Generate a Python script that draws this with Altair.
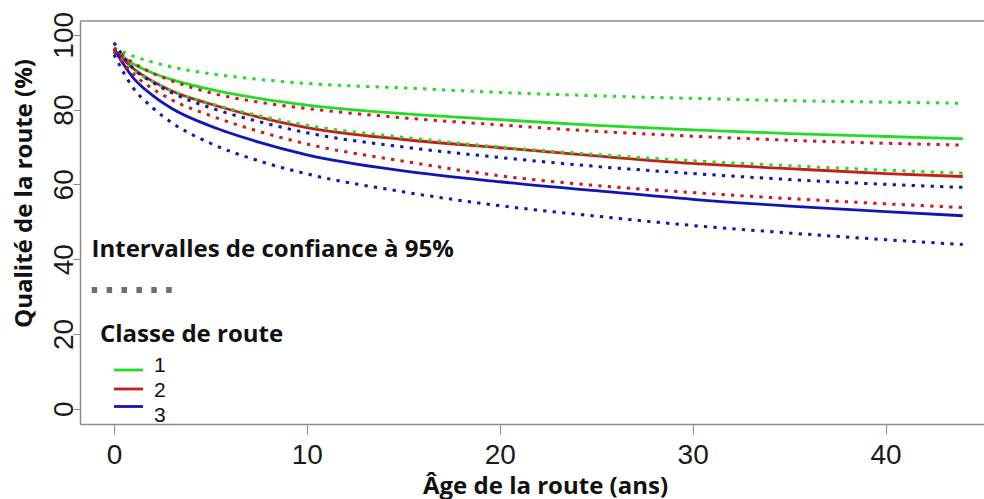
import altair as alt
import pandas as pd

# Age of the road (years)
age = [0, 1, 2, 3, 5, 7.5, 10, 15, 20, 25, 30, 35, 40, 44]

# Class 1 (green)
c1_est = [96.0, 92.2, 89.8, 88.0, 85.4, 83.0, 81.2, 78.9, 77.3, 75.8, 74.6, 73.6, 72.8, 72.2]
c1_up = [96.5, 94.3, 92.7, 91.4, 89.6, 88.1, 87.0, 85.8, 84.6, 83.7, 83.0, 82.4, 82.0, 81.7]
c1_lo = [95.5, 90.5, 87.5, 85.0, 81.6, 78.4, 75.8, 72.6, 70.0, 68.0, 66.3, 65.0, 63.8, 63.0]
# Class 2 (red)
c2_est = [96.0, 91.0, 87.6, 85.0, 81.5, 78.0, 75.2, 72.0, 69.8, 67.6, 65.6, 64.2, 62.9, 62.1]
c2_up = [96.5, 92.5, 89.8, 87.7, 84.5, 82.0, 80.3, 77.8, 75.9, 74.2, 72.9, 71.8, 71.0, 70.5]
c2_lo = [95.5, 89.5, 85.6, 82.6, 78.4, 74.2, 70.8, 66.2, 62.3, 59.7, 57.8, 56.2, 54.8, 53.8]
# Class 3 (blue)
c3_est = [96.2, 88.5, 83.8, 80.3, 75.6, 71.3, 67.9, 63.6, 60.7, 58.3, 56.0, 54.2, 52.7, 51.6]
c3_up = [97.9, 91.0, 87.3, 84.5, 80.5, 76.8, 73.8, 70.0, 67.2, 64.8, 62.9, 61.3, 60.0, 59.2]
c3_lo = [94.7, 85.8, 80.5, 76.5, 71.0, 66.3, 62.8, 58.0, 54.3, 51.5, 49.0, 47.0, 45.2, 43.9]

classes = ["1", "2", "3"]
colors = ["#22dd22", "#cc1a1a", "#1414b4"]
x_ticks = [0, 10, 20, 30, 40]
y_ticks = [0, 20, 40, 60, 80, 100]

series = [
    ("1", "est", c1_est), ("1", "up", c1_up), ("1", "lo", c1_lo),
    ("2", "est", c2_est), ("2", "up", c2_up), ("2", "lo", c2_lo),
    ("3", "est", c3_est), ("3", "up", c3_up), ("3", "lo", c3_lo),
]
rows = []
for cls, kind, vals in series:
    for a, v in zip(age, vals):
        rows.append({"age": a, "value": v, "classe": cls, "kind": kind, "sid": cls + "-" + kind})
df = pd.DataFrame(rows)

W, H = 904, 403
BOLD = "Open Sans"
BSIZE = 24
TICKFONT = "Liberation Sans"

xenc = alt.X(
    "age:Q",
    scale=alt.Scale(domain=[-1.76, 45.1], nice=False, zero=False),
    axis=alt.Axis(
        values=x_ticks, grid=False, title="Âge de la route (ans)",
        domainColor="#8c8c8c", domainWidth=1.5, tickColor="#8c8c8c", tickSize=10,
        labelFont=TICKFONT, labelFontSize=28, labelColor="#1a1a1a", labelPadding=7,
        titleFont=BOLD, titleFontSize=BSIZE, titleFontWeight="bold", titleColor="#111111",
        titleX=465, titleY=69, titleBaseline="alphabetic", titleAlign="center",
    ),
)
yenc = alt.Y(
    "value:Q",
    scale=alt.Scale(domain=[-4.1, 103.7], nice=False, zero=False),
    axis=alt.Axis(
        values=y_ticks, grid=False, title="Qualité de la route (%)",
        domainColor="#8c8c8c", domainWidth=1.5, tickColor="#8c8c8c", tickSize=7,
        labelFont=TICKFONT, labelFontSize=28, labelColor="#1a1a1a", labelPadding=1,
        labelAngle=270, labelAlign="center", labelBaseline="alphabetic",
        titleFont=BOLD, titleFontSize=BSIZE, titleFontWeight="bold", titleColor="#111111",
        titleAngle=270, titleX=-49, titleY=172, titleBaseline="alphabetic", titleAlign="center",
    ),
)
color = alt.Color("classe:N", scale=alt.Scale(domain=classes, range=colors), legend=None)

base = alt.Chart(df)
solid = base.transform_filter(alt.datum.kind == "est").mark_line(
    strokeWidth=2.8, interpolate="monotone"
).encode(x=xenc, y=yenc, color=color, detail="sid:N")
dotted = base.transform_filter(alt.datum.kind != "est").mark_line(
    strokeWidth=3, strokeDash=[3.3, 6.2], interpolate="monotone"
).encode(x=xenc, y=yenc, color=color, detail="sid:N")

one = pd.DataFrame({"k": [0]})

top_border = alt.Chart(one).mark_rule(color="#8c8c8c", strokeWidth=1.5).encode(
    x=alt.value(0), x2=alt.value(W), y=alt.value(0)
)

def label(text, x, y, size, weight="bold", font=BOLD):
    return alt.Chart(pd.DataFrame({"t": [text]})).mark_text(
        font=font, fontSize=size, fontWeight=weight, align="left",
        baseline="alphabetic", color="#111111"
    ).encode(text="t:N", x=alt.value(x), y=alt.value(y))

ci_title = label("Intervalles de confiance à 95%", 11.5, 236, BSIZE)
ci_sample = alt.Chart(one).mark_rule(
    color="#6e6e6e", strokeWidth=6, strokeDash=[5.5, 9.4]
).encode(x=alt.value(11.7), x2=alt.value(91.7), y=alt.value(269))
cls_title = label("Classe de route", 20, 321, BSIZE)

leg_layers = []
leg_y = [349, 368, 385.5]
lab_y = [351, 376, 401]
for c, col, ly, ty in zip(classes, colors, leg_y, lab_y):
    leg_layers.append(
        alt.Chart(one).mark_rule(color=col, strokeWidth=2.8).encode(
            x=alt.value(34), x2=alt.value(63), y=alt.value(ly)
        )
    )
    leg_layers.append(label(c, 74, ty, 21, weight="normal", font="Liberation Sans"))

chart = alt.layer(
    solid, dotted, top_border, ci_title, ci_sample, cls_title, *leg_layers
).properties(
    width=W, height=H,
    autosize=alt.AutoSizeParams(type="none"),
    padding={"left": 80, "top": 21, "right": 0, "bottom": 75},
    background="white",
).configure_view(stroke=None)

chart.save("out.html", embed_options={"renderer": "svg", "actions": False})
